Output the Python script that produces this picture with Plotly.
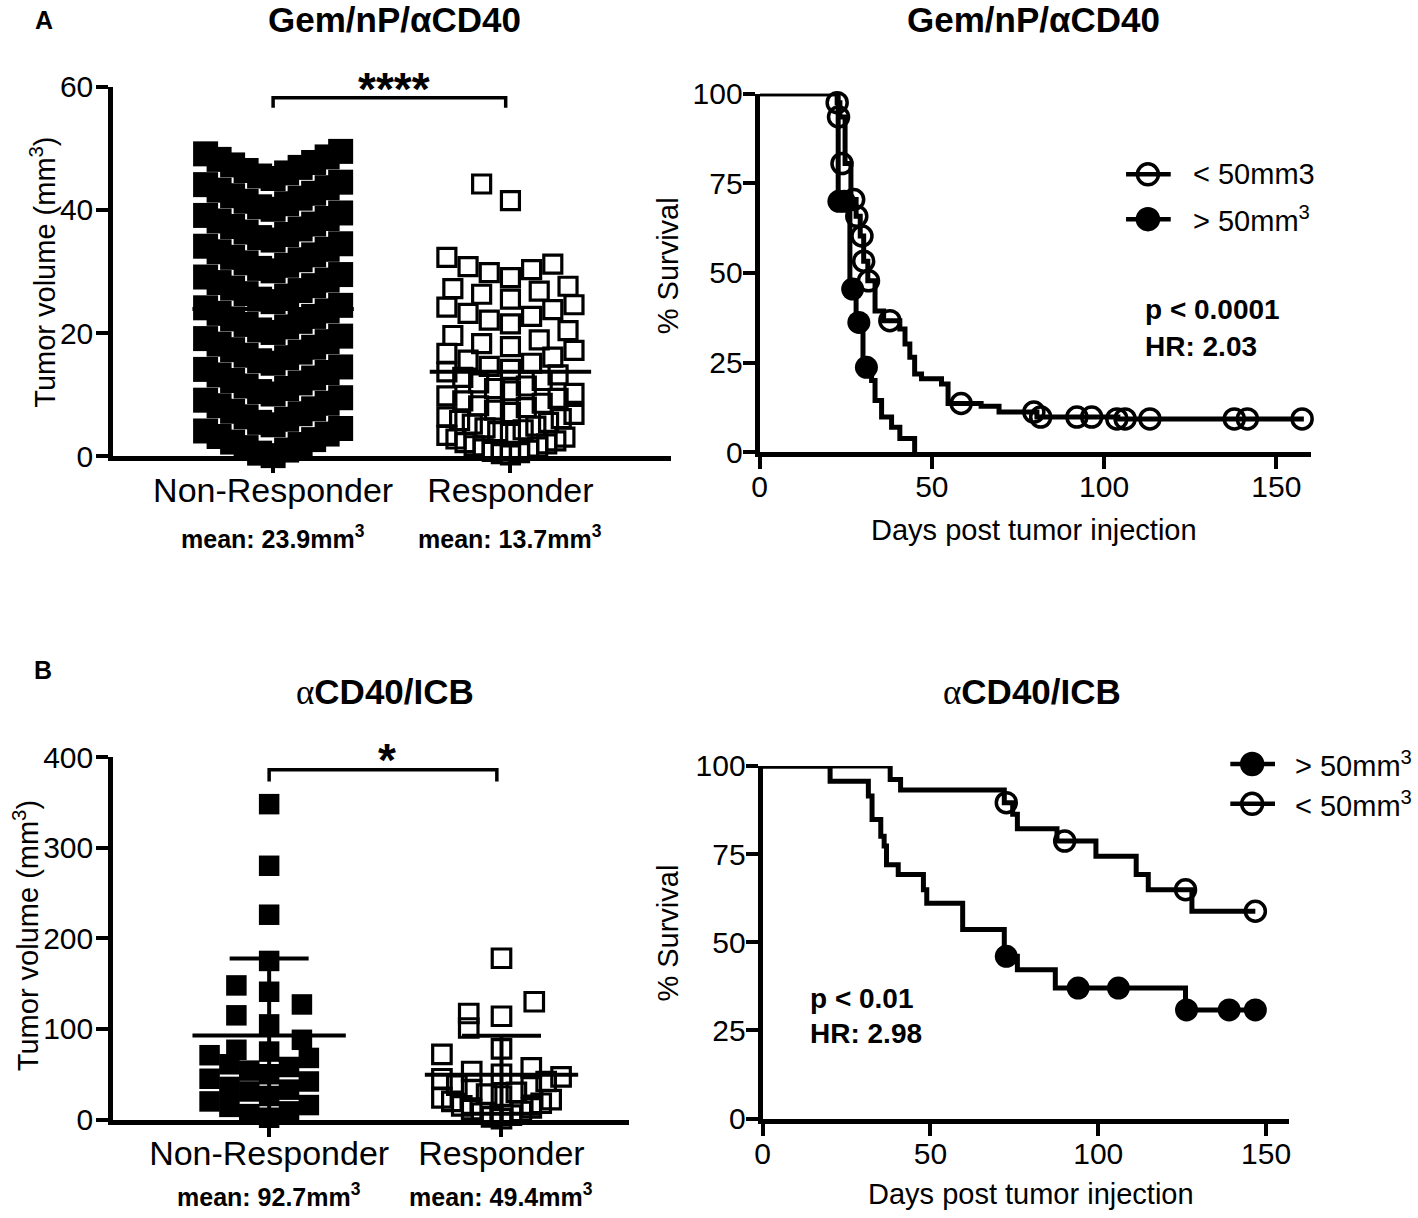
import plotly.graph_objects as go

W, H = 1418, 1218
FONT = "Liberation Sans, Arial, sans-serif"

# ---------------- data ----------------
cats = ["Non-Responder", "Responder"]

# A, left: tumor volume at enrolment, Gem/nP/aCD40 (mm3)
a_nonresp = [0.1, 0.5, 1.0, 1.4, 1.9, 2.3, 2.7, 3.2, 3.6, 4.1, 4.5,
             5.1, 5.5, 6.0, 6.4, 6.9, 7.3, 7.7, 8.2, 8.6, 9.1, 9.5,
             10.1, 10.5, 11.0, 11.4, 11.9, 12.3, 12.7, 13.2, 13.6, 14.1, 14.5,
             15.1, 15.5, 16.0, 16.4, 16.9, 17.3, 17.7, 18.2, 18.6, 19.1, 19.5,
             20.1, 20.5, 21.0, 21.4, 21.9, 22.3, 22.7, 23.2, 23.6, 24.1, 24.5,
             25.1, 25.5, 26.0, 26.4, 26.9, 27.3, 27.7, 28.2, 28.6, 29.1, 29.5,
             30.1, 30.5, 31.0, 31.4, 31.9, 32.3, 32.7, 33.2, 33.6, 34.1, 34.5,
             35.1, 35.5, 36.0, 36.4, 36.9, 37.3, 37.7, 38.2, 38.6, 39.1, 39.5,
             40.1, 40.5, 41.0, 41.4, 41.9, 42.3, 42.7, 43.2, 43.6, 44.1, 44.5,
             45.1, 45.5, 46.0, 46.4, 46.9, 47.3, 47.7, 48.2, 48.6, 49.1, 49.5]
a_resp = [44.2, 41.5,
          32.3, 31.2, 30.8, 30.3, 29.8, 29.0,
          27.6, 27.2, 26.8, 26.3, 25.5,
          24.6, 24.2, 23.8, 23.2, 22.7, 22.1, 21.5,
          20.4, 19.6, 18.9, 18.3, 17.8, 17.2, 16.7, 16.1,
          15.6, 15.1, 14.6, 14.1, 13.7, 13.2, 12.8, 12.3, 11.9, 11.4, 11.0,
          10.6, 10.2, 9.8, 9.4, 9.0, 8.6, 8.2, 7.9, 7.5, 7.1, 6.8, 6.4, 6.1,
          5.8, 5.5, 5.2, 4.9, 4.6, 4.3, 4.0, 3.7, 3.4, 3.1, 2.8, 2.5, 2.2,
          2.0, 1.7, 1.5, 1.2, 1.0, 0.8, 0.6, 0.4, 0.2]
a_means = [23.9, 13.7]
a_mean_text = ["mean: 23.9mm<sup>3</sup>", "mean: 13.7mm<sup>3</sup>"]

# B, left: tumor volume, aCD40/ICB (mm3)
b_nonresp = [348, 280, 226, 175, 148, 141, 127, 115, 105, 88,
             77, 75, 71, 68, 61, 58, 54, 50, 45, 42,
             36, 33, 31, 26, 20, 16, 14, 9, 6, 2]
b_resp = [178, 130, 117, 114, 101, 78, 72, 57, 53, 50,
          47, 45, 42, 38, 36, 33, 30, 28, 26, 24,
          22, 20, 18, 15, 13, 11, 9, 7, 5, 3, 1]
b_means = [92.7, 49.4]
b_sd = [85.0, 43.0]
b_mean_text = ["mean: 92.7mm<sup>3</sup>", "mean: 49.4mm<sup>3</sup>"]

# A, right: survival (days, % survival)
a_small_t = [0, 22.5, 23.3, 24.8, 26.5, 28.0, 29.2, 30.2, 31.4, 33.5, 36.0, 40.7,
             42.2, 43.6, 45.0, 47.0, 52.8, 54.7, 64.3, 69.5, 80.5, 104.0, 158.0]
a_small_s = [100, 97.5, 93.5, 80.5, 70.5, 65.8, 60.3, 53.3, 47.8, 39.4, 36.7, 34.4,
             30.2, 26.5, 21.8, 20.5, 19.0, 13.6, 12.8, 11.2, 9.8, 9.3, 9.3]
a_small_ct = [22.5, 22.9, 23.9, 27.3, 28.2, 29.7, 30.2, 31.6, 37.8, 58.5,
              79.6, 81.6, 92.1, 96.4, 103.7, 106.1, 113.3, 137.8, 141.6, 157.5]
a_small_cs = [97.5, 93.5, 80.5, 70.5, 65.8, 60.3, 53.3, 47.8, 36.7, 13.6,
              11.2, 9.8, 9.8, 9.8, 9.3, 9.3, 9.3, 9.3, 9.3, 9.3]
a_big_t = [0, 22.8, 26.2, 28.0, 30.0, 32.5, 33.5, 35.4, 38.3, 40.7, 45.0]
a_big_s = [100, 70, 45.5, 36.2, 23.7, 20.0, 14.4, 9.8, 7.0, 3.8, 0]
a_big_ct = [23.0, 24.6, 27.0, 28.8, 31.0]
a_big_cs = [70, 70, 45.5, 36.2, 23.7]

# B, right: survival
b_small_t = [0, 38.0, 41.1, 72.0, 74.5, 75.9, 87.7, 99.3, 111.3, 114.9, 127.9, 146.8]
b_small_s = [100, 96.2, 93.2, 89.6, 86.3, 82.2, 78.7, 74.4, 69.2, 64.9, 58.8, 58.8]
b_small_ct = [72.6, 90.0, 126.0, 146.8]
b_small_cs = [89.6, 78.7, 64.9, 58.8]
b_big_t = [0, 20.1, 31.5, 32.6, 35.2, 36.2, 36.9, 40.4, 47.9, 48.9, 59.6, 72.0,
           75.9, 87.2, 126.0, 146.8]
b_big_s = [100, 95.7, 91.5, 84.8, 80.1, 77.3, 72.0, 69.2, 64.9, 61.1, 53.6, 46.0,
           42.2, 37.0, 30.8, 30.8]
b_big_ct = [72.6, 94.0, 106.0, 126.3, 139.0, 146.8]
b_big_cs = [46.0, 37.0, 37.0, 30.8, 30.8, 30.8]

# ---------------- layout helpers ----------------
def Y(y):
    # target pixel row -> layout pixel row (the photo squeezes rows a little)
    return (y - 15) / 0.976


def fx(x):
    return x / W


def fy(y):
    return 1 - Y(y) / H


def column_offsets(values, ppu, row_px, spacing, max_half):
    """prism-like column scatter: rows of row_px height, low values in the middle"""
    order = sorted(range(len(values)), key=lambda i: values[i])
    h = row_px / ppu
    offs = [0.0] * len(values)
    j = 0
    while j < len(order):
        v0 = values[order[j]]
        row = [order[j]]
        j += 1
        while j < len(order) and values[order[j]] - v0 < h:
            row.append(order[j])
            j += 1
        kmax = len(row) // 2
        sp = spacing if kmax == 0 else min(spacing, max_half / kmax)
        for n, i in enumerate(row):
            k = (n + 1) // 2
            offs[i] = (-k if n % 2 else k) * sp
    return offs


fig = go.Figure()

# ---- A left ----
A1_cat_px = 239.0
A1_ppu = (Y(456) - Y(85)) / 60.0
a_style = [dict(row_px=29.8, spacing=22, max_half=68, size=25),
           dict(row_px=21, spacing=29, max_half=64, size=18)]
for i, (vals, filled) in enumerate([(a_nonresp, True), (a_resp, False)]):
    st = a_style[i]
    offs = column_offsets(vals, A1_ppu, st["row_px"], st["spacing"], st["max_half"])
    fig.add_trace(go.Scatter(
        x=[i + o / A1_cat_px for o in offs], y=vals, mode="markers",
        marker=dict(symbol="square" if filled else "square-open", size=st["size"],
                    color="black", line=dict(width=0 if filled else 3.2, color="black")),
        xaxis="x", yaxis="y", cliponaxis=False, showlegend=False, hoverinfo="skip"))
for i, m in enumerate(a_means):
    fig.add_trace(go.Scatter(x=[i - 0.34, i + 0.34], y=[m, m], mode="lines",
                             line=dict(color="black", width=4), xaxis="x", yaxis="y",
                             cliponaxis=False, showlegend=False, hoverinfo="skip"))

# ---- B left ----
B1_cat_px = 234.0
B1_ppu = (Y(1122) - Y(758)) / 400.0
for i, (vals, filled) in enumerate([(b_nonresp, True), (b_resp, False)]):
    offs = column_offsets(vals, B1_ppu, 21.5, 33, 60)
    fig.add_trace(go.Scatter(
        x=[i + o / B1_cat_px for o in offs], y=vals, mode="markers",
        marker=dict(symbol="square" if filled else "square-open", size=20.5 if filled else 18.5,
                    color="black", line=dict(width=0 if filled else 3.2, color="black")),
        xaxis="x3", yaxis="y3", cliponaxis=False, showlegend=False, hoverinfo="skip"))
for i, (m, sd) in enumerate(zip(b_means, b_sd)):
    for xs, ys in [([i - 0.33, i + 0.33], [m, m]),
                   ([i, i], [m - sd, m + sd]),
                   ([i - 0.17, i + 0.17], [m + sd, m + sd]),
                   ([i - 0.17, i + 0.17], [m - sd, m - sd])]:
        fig.add_trace(go.Scatter(x=xs, y=ys, mode="lines", line=dict(color="black", width=4),
                                 xaxis="x3", yaxis="y3", cliponaxis=False,
                                 showlegend=False, hoverinfo="skip"))

# ---- survival curves ----
def surv(t, s, ct, cs, filled, xa, ya):
    fig.add_trace(go.Scatter(x=t, y=s, mode="lines", line=dict(color="black", width=5, shape="hv"),
                             xaxis=xa, yaxis=ya, cliponaxis=False, showlegend=False,
                             hoverinfo="skip"))
    fig.add_trace(go.Scatter(
        x=ct, y=cs, mode="markers",
        marker=dict(symbol="circle" if filled else "circle-open", size=23 if filled else 20,
                    color="black", line=dict(width=0 if filled else 3.5, color="black")),
        xaxis=xa, yaxis=ya, cliponaxis=False, showlegend=False, hoverinfo="skip"))


surv(a_small_t, a_small_s, a_small_ct, a_small_cs, False, "x2", "y2")
surv(a_big_t, a_big_s, a_big_ct, a_big_cs, True, "x2", "y2")
surv(b_small_t, b_small_s, b_small_ct, b_small_cs, False, "x4", "y4")
surv(b_big_t, b_big_s, b_big_ct, b_big_cs, True, "x4", "y4")

# ---------------- axes ----------------
def axis(**kw):
    d = dict(showline=True, linecolor="black", linewidth=5, ticks="outside", ticklen=12,
             tickwidth=4, tickcolor="black", showgrid=False, zeroline=False,
             tickfont=dict(family=FONT, size=30, color="black"), fixedrange=True)
    d.update(kw)
    return d


cat_font = dict(family=FONT, size=34, color="black")
fig.update_layout(
    width=W, height=H, margin=dict(l=0, r=0, t=0, b=0), autosize=False,
    paper_bgcolor="white", plot_bgcolor="white",
    xaxis=axis(domain=[fx(106), fx(668)], range=[-161 / A1_cat_px, 401 / A1_cat_px],
               tickvals=[0, 1], ticktext=cats, tickfont=cat_font, anchor="y", ticklabelstandoff=-12),
    yaxis=axis(domain=[fy(456), fy(85)], range=[0, 60], tickvals=[0, 20, 40, 60], anchor="x",
               ticklabelstandoff=-3),
    xaxis2=axis(domain=[fx(757), fx(1312)], range=[0, 160], tickvals=[0, 50, 100, 150], anchor="y2",
                ticklabelstandoff=-8),
    yaxis2=axis(domain=[fy(452), fy(92)], range=[0, 100], tickvals=[0, 25, 50, 75, 100], anchor="x2",
                ticklabelstandoff=-6),
    xaxis3=axis(domain=[fx(106), fx(625)], range=[-157 / B1_cat_px, 362 / B1_cat_px],
                tickvals=[0, 1], ticktext=cats, tickfont=cat_font, anchor="y3", ticklabelstandoff=-12),
    yaxis3=axis(domain=[fy(1122), fy(758)], range=[0, 400], tickvals=[0, 100, 200, 300, 400], anchor="x3",
                ticklabelstandoff=-3),
    xaxis4=axis(domain=[fx(760), fx(1290)], range=[0, 156.8], tickvals=[0, 50, 100, 150], anchor="y4",
                ticklabelstandoff=-8),
    yaxis4=axis(domain=[fy(1121), fy(767)], range=[0, 100], tickvals=[0, 25, 50, 75, 100], anchor="x4",
                ticklabelstandoff=-6),
)

# ---------------- texts ----------------
ann = []


def txt(x, y, s, size=28, bold=False, angle=0, xanchor="center", xref="paper"):
    ann.append(dict(x=x if xref != "paper" else fx(x), y=fy(y), xref=xref, yref="paper", text=s,
                    showarrow=False, textangle=angle, xanchor=xanchor, yanchor="middle",
                    font=dict(family=FONT, size=size, color="black",
                              weight="bold" if bold else "normal")))


alpha = "<span style='font-family:Liberation Serif;font-weight:normal'>\u03b1</span>"
txt(36, 18, "A", 25, True)
txt(35, 671, "B", 25, True)
txt(389, 18, "Gem/nP/\u03b1CD40", 35, True)
txt(1033, 18, "Gem/nP/\u03b1CD40", 35, True)
txt(380, 693, alpha + "CD40/ICB", 35, True)
txt(1031, 693, alpha + "CD40/ICB", 35, True)

txt(35, 271, "Tumor volume (mm<sup>3</sup>)", 29, angle=-90)
txt(18, 937, "Tumor volume (mm<sup>3</sup>)", 29, angle=-90)
txt(665, 265, "% Survival", 29, angle=-90)
txt(665, 935, "% Survival", 29, angle=-90)
txt(1033, 530, "Days post tumor injection", 29)
txt(1030, 1197, "Days post tumor injection", 29)

for i, s in enumerate(a_mean_text):
    txt(i, 537, s, 25, True, xref="x")
for i, s in enumerate(b_mean_text):
    txt(i, 1198, s, 25, True, xref="x3")

txt(389, 87, "****", 46, True)
txt(382, 761, "*", 46, True)

txt(1143, 309, "p < 0.0001", 28, True, xanchor="left")
txt(1143, 346, "HR: 2.03", 28, True, xanchor="left")
txt(806, 1000, "p < 0.01", 28, True, xanchor="left")
txt(806, 1036, "HR: 2.98", 28, True, xanchor="left")

txt(1191, 173, "< 50mm3", 29, xanchor="left")
txt(1191, 218, "> 50mm<sup>3</sup>", 29, xanchor="left")
txt(1294, 765, "> 50mm<sup>3</sup>", 29, xanchor="left")
txt(1294, 805, "< 50mm<sup>3</sup>", 29, xanchor="left")
fig.update_layout(annotations=ann)

# ---------------- brackets + legend symbols ----------------
shapes = []
for xr, yr, y_top, y_low, x1 in [("x", "y", 58.2, 56.6, 0.98), ("x3", "y3", 386, 373, 0.98)]:
    shapes.append(dict(type="path", xref=xr, yref=yr,
                       path=f"M 0 {y_low} L 0 {y_top} L {x1} {y_top} L {x1} {y_low}",
                       line=dict(color="black", width=3.5)))


def legend_symbol(xc, yc, filled):
    shapes.append(dict(type="line", xref="paper", yref="paper", x0=fx(xc - 22), x1=fx(xc + 23),
                       y0=fy(yc), y1=fy(yc), line=dict(color="black", width=4.5)))
    shapes.append(dict(type="circle", xref="paper", yref="paper", xsizemode="pixel",
                       ysizemode="pixel", xanchor=fx(xc), yanchor=fy(yc),
                       x0=-10.5, x1=10.5, y0=-10.5, y1=10.5,
                       line=dict(color="black", width=3.5),
                       fillcolor="black" if filled else "rgba(0,0,0,0)"))


legend_symbol(1148, 173, False)
legend_symbol(1148, 218, True)
legend_symbol(1253, 765, True)
legend_symbol(1253, 805, False)
fig.update_layout(shapes=shapes)

fig.write_html("out.html", config={"displayModeBar": False},
               post_script="document.body.style.margin='0';")
